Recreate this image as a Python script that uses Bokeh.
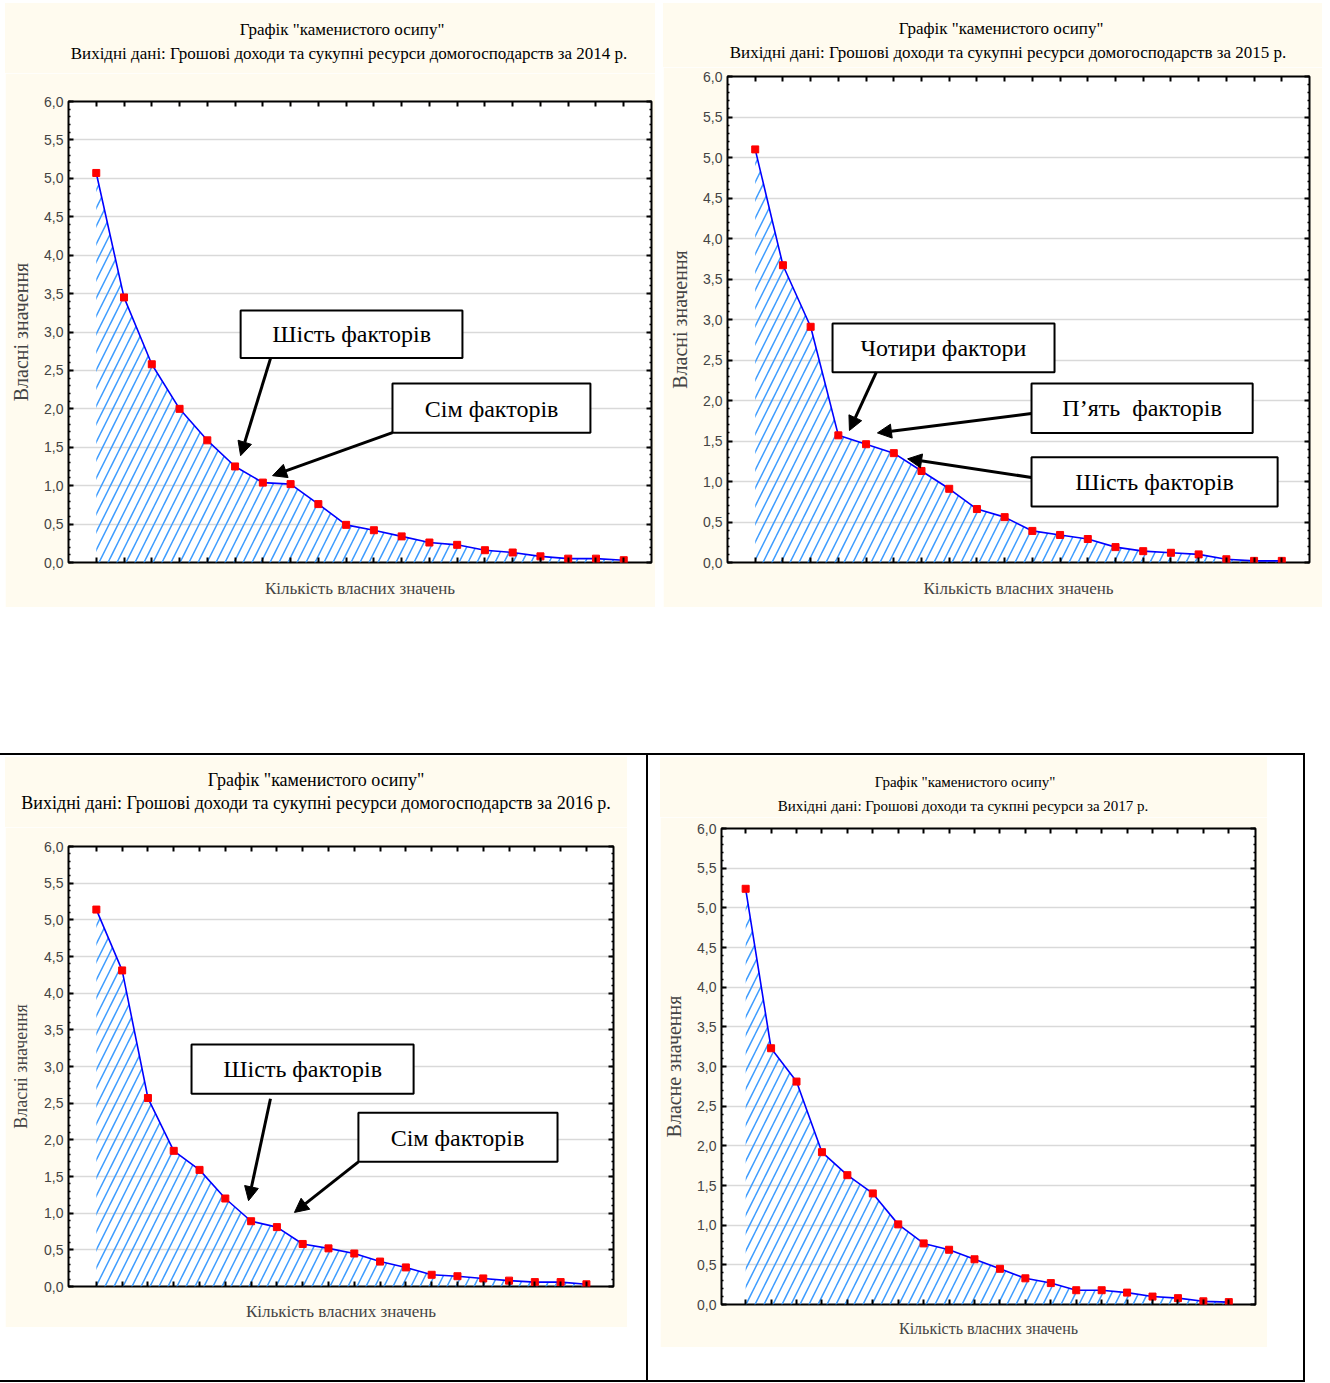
from bokeh.plotting import figure
from bokeh.models import (LinearAxis, FixedTicker, SingleIntervalTicker, CustomJSTickFormatter,
                          BoxAnnotation, Label, Arrow, NormalHead, Range1d, Spacer, Div, Grid)
from bokeh.layouts import row, column
from bokeh.embed import file_html
from bokeh.resources import INLINE

# ---------------- data ----------------
components = list(range(1, 21))
eig_2014 = [5.07, 3.45, 2.58, 2.00, 1.59, 1.25, 1.04, 1.02, 0.76, 0.49,
            0.42, 0.34, 0.26, 0.23, 0.16, 0.13, 0.08, 0.05, 0.05, 0.03]
eig_2015 = [5.10, 3.67, 2.91, 1.57, 1.46, 1.35, 1.13, 0.91, 0.66, 0.56,
            0.39, 0.34, 0.29, 0.19, 0.14, 0.12, 0.10, 0.04, 0.02, 0.02]
eig_2016 = [5.14, 4.31, 2.57, 1.85, 1.59, 1.20, 0.89, 0.81, 0.58, 0.52,
            0.45, 0.34, 0.26, 0.16, 0.14, 0.11, 0.08, 0.06, 0.06, 0.03]
eig_2017 = [5.24, 3.23, 2.81, 1.92, 1.63, 1.40, 1.01, 0.77, 0.69, 0.57,
            0.45, 0.33, 0.27, 0.18, 0.18, 0.15, 0.10, 0.08, 0.04, 0.03]

title_main = 'Графік "каменистого осипу"'
sub_2014 = "Вихідні дані: Грошові доходи та сукупні ресурси домогосподарств за 2014 р."
sub_2015 = "Вихідні дані: Грошові доходи та сукупні ресурси домогосподарств за 2015 р."
sub_2016 = "Вихідні дані: Грошові доходи та сукупні ресурси домогосподарств за 2016 р."
sub_2017 = "Вихідні дані: Грошові доходи та сукпні ресурси за 2017 р."
ylab_many = "Власні значення"
ylab_one = "Власне значення"
xlab = "Кількість власних значень"

CREAM = "#fffbef"
SERIF = "Liberation Serif"
SANS = "Liberation Sans"

blank_fmt_code = "return '';"


def heading(sub, w, h, size, c1, top1, c2, top2):
    lh = round(size * 1.2)
    def line(txt, c, top):
        return (f'<div style="position:absolute;left:{c}px;top:{top}px;transform:translateX(-50%);'
                f'white-space:nowrap;font-family:\'{SERIF}\';font-size:{size}px;line-height:{lh}px;'
                f'color:black;">{txt}</div>')
    html = (f'<div style="position:relative;width:{w}px;height:{h}px;">'
            + line(title_main.replace('"', '&quot;'), c1, top1) + line(sub, c2, top2) + '</div>')
    return Div(text=html, width=w, height=h, margin=0,
               styles={"background-color": CREAM, "overflow": "hidden"})


def panel(vals, ylab, w, h, bl, br, bt, bb, xr,
          ylab_size, xlab_size, xlab_standoff, ylab_standoff):
    p = figure(width=w, height=h, x_range=Range1d(*xr), y_range=Range1d(0, 6),
               output_backend="svg", toolbar_location=None, title=None,
               x_axis_type=None, y_axis_type=None,
               min_border_left=bl, min_border_right=br, min_border_top=bt, min_border_bottom=bb,
               background_fill_color="white", border_fill_color=CREAM,
               outline_line_color="black", outline_line_width=2)
    yt = SingleIntervalTicker(interval=0.5, num_minor_ticks=5)
    xt = FixedTicker(ticks=components)
    fmt = CustomJSTickFormatter(code="return tick.toFixed(1).replace('.', ',');")

    p.add_layout(Grid(dimension=1, ticker=yt, grid_line_color="#d9d9d9", grid_line_width=1.5))

    ya = LinearAxis(ticker=yt, formatter=fmt, axis_label=ylab,
                    axis_label_text_font=SERIF, axis_label_text_font_style="normal",
                    axis_label_text_font_size=f"{ylab_size}px", axis_label_standoff=ylab_standoff,
                    major_label_text_font=SANS, major_label_text_font_size="14px",
                    major_label_standoff=5, major_tick_in=5, major_tick_out=0,
                    minor_tick_in=2, minor_tick_out=0, axis_line_color=None,
                    major_tick_line_width=2, minor_tick_line_width=1.5)
    p.add_layout(ya, "left")
    ra = LinearAxis(ticker=yt, formatter=CustomJSTickFormatter(code=blank_fmt_code),
                    major_label_text_font_size="1px", major_label_standoff=0,
                    major_tick_in=5, major_tick_out=0, minor_tick_in=2, minor_tick_out=0,
                    axis_line_color=None, major_tick_line_width=2, minor_tick_line_width=1.5)
    p.add_layout(ra, "right")
    xa = LinearAxis(ticker=xt, axis_label=xlab, formatter=CustomJSTickFormatter(code=blank_fmt_code),
                    axis_label_text_font=SERIF, axis_label_text_font_style="normal",
                    axis_label_text_font_size=f"{xlab_size}px", axis_label_standoff=xlab_standoff,
                    major_label_text_font_size="1px", major_label_standoff=0,
                    major_tick_in=5, major_tick_out=0, minor_tick_line_color=None,
                    axis_line_color=None, major_tick_line_width=2)
    p.add_layout(xa, "below")
    ta = LinearAxis(ticker=xt, formatter=CustomJSTickFormatter(code=blank_fmt_code),
                    major_label_text_font_size="1px", major_label_standoff=0,
                    major_tick_in=5, major_tick_out=0, minor_tick_line_color=None,
                    axis_line_color=None, major_tick_line_width=2)
    p.add_layout(ta, "above")

    p.varea(x=components, y1=[0] * len(vals), y2=vals, fill_alpha=0,
            hatch_pattern="/", hatch_color="#3d9cff", hatch_scale=18, hatch_weight=1.5)
    p.line(components, vals, line_color="#0000ff", line_width=1.6)
    p.scatter(components, vals, marker="square", size=7, fill_color="#ff0000", line_color="#ff0000")
    return p


def callout(p, l, r, t, b, text, tx, ty, size=24):
    p.add_layout(BoxAnnotation(left=l, right=r, top=t, bottom=b, fill_color="white", fill_alpha=1,
                               line_color="black", line_width=2, line_alpha=1))
    p.add_layout(Label(x=tx, y=ty, text=text, text_font=SERIF, text_font_size=f"{size}px",
                       text_align="center", text_baseline="middle", text_color="black"))


def arrow(p, x0, y0, x1, y1):
    p.add_layout(Arrow(end=NormalHead(size=14, fill_color="black", line_color="black"),
                       x_start=x0, y_start=y0, x_end=x1, y_end=y1,
                       line_color="black", line_width=3))


# 2014
h1 = heading(sub_2014, 650, 70, 17, 337, 17, 344, 41)
p1 = panel(eig_2014, ylab_many, 650, 534, 63, 4, 28, 45, (0, 21), 20, 17, 16, 9)
callout(p1, 6.20, 14.19, 3.28, 2.66, "Шість факторів", 10.2, 2.97)
callout(p1, 11.67, 18.80, 2.33, 1.69, "Сім факторів", 15.24, 2.00)
arrow(p1, 7.28, 2.66, 6.20, 1.39)
arrow(p1, 11.67, 1.69, 7.35, 1.13)

# 2015
h2 = heading(sub_2015, 659, 64, 17, 338, 16, 345, 40)
p2 = panel(eig_2015, ylab_many, 659, 540, 64, 13, 9, 45, (0, 21), 20, 17, 16, 9)
callout(p2, 3.79, 11.80, 2.95, 2.35, "Чотири фактори", 7.79, 2.65)
callout(p2, 10.97, 18.95, 2.21, 1.60, "П’ять \u00a0факторів", 14.96, 1.91)
callout(p2, 10.97, 19.85, 1.30, 0.69, "Шість факторів", 15.41, 0.99)
arrow(p2, 5.37, 2.35, 4.40, 1.63)
arrow(p2, 10.97, 1.84, 5.41, 1.60)
arrow(p2, 10.97, 1.05, 6.50, 1.28)

# 2016
h3 = heading(sub_2016, 622, 70, 18, 311, 12, 311, 35)
p3 = panel(eig_2016, ylab_many, 622, 500, 63, 14, 19, 41, (-0.08, 21.05), 18, 17, 15, 10)
callout(p3, 4.69, 13.30, 3.30, 2.63, "Шість факторів", 9.0, 2.96)
callout(p3, 11.16, 18.88, 2.37, 1.70, "Сім факторів", 15.0, 2.03)
arrow(p3, 7.75, 2.56, 6.90, 1.17)
arrow(p3, 11.16, 1.70, 8.68, 1.01)

# 2017
h4 = heading(sub_2017, 607, 60, 15, 305, 16, 303, 40)
p4 = panel(eig_2017, ylab_one, 607, 530, 60, 12, 11, 43, (0.05, 21.05), 20, 16, 15, 9)


def hline(w):
    return Div(text="", width=w, height=2, margin=0, styles={"background-color": "black"})


def vline(h):
    return Div(text="", width=2, height=h, margin=0, styles={"background-color": "black"})


ROW2_H = 625
cell3 = column(Spacer(width=641, height=2),
               row(column(h3, p3), Spacer(width=19, height=570)),
               Spacer(width=641, height=ROW2_H - 572))
cell4 = column(Spacer(width=655, height=2),
               row(Spacer(width=12, height=590), column(h4, p4), Spacer(width=36, height=590)),
               Spacer(width=655, height=ROW2_H - 592))

root = column(
    row(Spacer(width=5, height=604), column(h1, p1), Spacer(width=8, height=604), column(h2, p2)),
    Spacer(width=1305, height=146),
    hline(1305),
    row(Spacer(width=5, height=ROW2_H), cell3, vline(ROW2_H), cell4, vline(ROW2_H)),
    hline(1305),
    margin=(3, 0, 0, 0),
)

open("out.html", "w").write(file_html(root, INLINE))
